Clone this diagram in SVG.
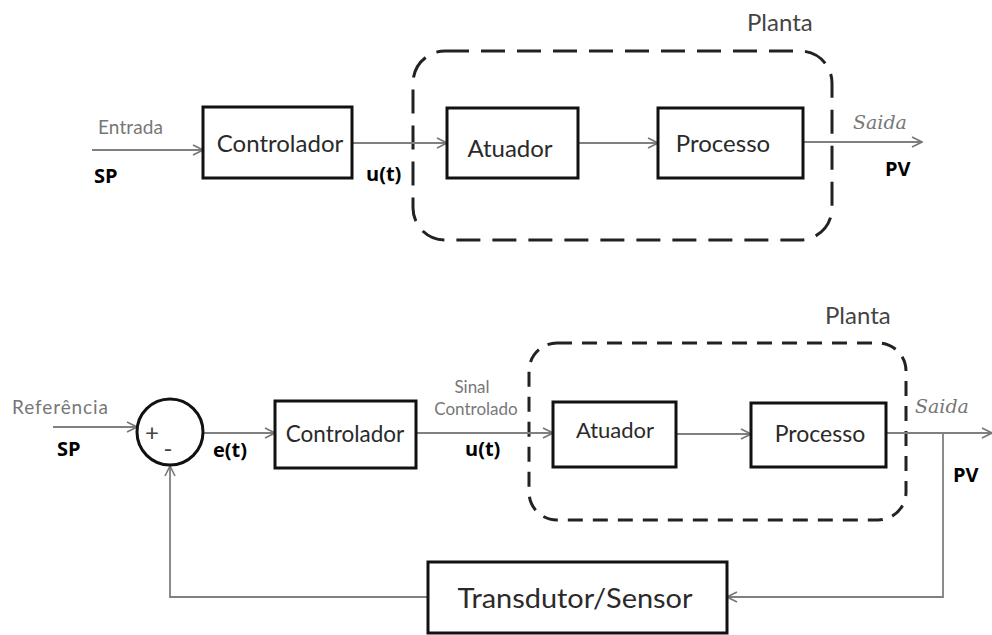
<svg xmlns="http://www.w3.org/2000/svg" width="992" height="635" viewBox="0 0 992 635">
  <defs>
    <marker id="arr" viewBox="0 0 12 12" refX="11" refY="6" markerWidth="12" markerHeight="12" markerUnits="userSpaceOnUse" orient="auto">
      <path d="M1,1 L11,6 L1,11" fill="none" stroke="#777" stroke-width="1.6"/>
    </marker>
  </defs>
  <style>
    .box { fill: #fff; stroke: #111; stroke-width: 3; }
    .plant { fill: none; stroke: #222; stroke-width: 3; }
    .wire { fill: none; stroke: #808080; stroke-width: 1.8; }
    .lbl { font-family: Lato, "Noto Sans", sans-serif; fill: #2a2a2a; text-anchor: middle; }
    .sig { font-family: Lato, "Noto Sans", sans-serif; fill: #777; }
    .bold { font-family: "Open Sans", "Noto Sans", sans-serif; font-weight: bold; fill: #000; }
    .out { font-family: "DejaVu Serif", serif; font-style: italic; fill: #777; }
    .ttl { font-family: Lato, "Noto Sans", sans-serif; fill: #444; }
  </style>
  <rect width="992" height="635" fill="#fff"/>

  <!-- Open loop -->
  <g id="planta-aberta">
    <rect class="plant" x="413" y="51" width="419" height="189" rx="32" stroke-dasharray="24 12"/>
    <text class="ttl" x="747" y="31" font-size="24">Planta</text>
  </g>
  <g id="conexoes-aberta">
    <line class="wire" x1="92" y1="150" x2="203" y2="150" marker-end="url(#arr)"/>
    <line class="wire" x1="352" y1="143" x2="447" y2="143" marker-end="url(#arr)"/>
    <line class="wire" x1="578" y1="143" x2="658" y2="143" marker-end="url(#arr)"/>
    <line class="wire" x1="803" y1="142" x2="922" y2="142" marker-end="url(#arr)"/>
  </g>
  <g id="controlador-aberta">
    <rect class="box" x="203" y="107" width="149" height="71"/>
    <text class="lbl" x="280" y="152" font-size="24">Controlador</text>
  </g>
  <g id="atuador-aberta">
    <rect class="box" x="447" y="108" width="131" height="70"/>
    <text class="lbl" x="510" y="157" font-size="24">Atuador</text>
  </g>
  <g id="processo-aberta">
    <rect class="box" x="658" y="108" width="145" height="70"/>
    <text class="lbl" x="723" y="152" font-size="24">Processo</text>
  </g>
  <g id="rotulos-aberta">
    <text class="sig" x="98" y="134" font-size="19" textLength="65">Entrada</text>
    <text class="bold" x="94" y="183" font-size="20">SP</text>
    <text class="bold" x="366" y="181" font-size="20">u(t)</text>
    <text class="out" x="853" y="129" font-size="19">Saida</text>
    <text class="bold" x="885" y="176" font-size="20">PV</text>
  </g>

  <!-- Closed loop -->
  <g id="planta-fechada">
    <rect class="plant" x="529" y="343" width="377" height="177" rx="28" stroke-dasharray="15 10"/>
    <text class="ttl" x="825" y="324" font-size="24">Planta</text>
  </g>
  <g id="conexoes-fechada">
    <line class="wire" x1="53" y1="427" x2="137" y2="427" marker-end="url(#arr)"/>
    <line class="wire" x1="203" y1="433" x2="275" y2="433" marker-end="url(#arr)"/>
    <line class="wire" x1="416" y1="433" x2="553" y2="433" marker-end="url(#arr)"/>
    <line class="wire" x1="676" y1="434" x2="751" y2="434" marker-end="url(#arr)"/>
    <line class="wire" x1="886" y1="433" x2="992" y2="433" marker-end="url(#arr)"/>
    <polyline class="wire" points="943,433 943,597 727,597" marker-end="url(#arr)"/>
    <polyline class="wire" points="428,597 170,597 170,466" marker-end="url(#arr)"/>
  </g>
  <g id="somador">
    <circle cx="170" cy="432" r="33" fill="#fff" stroke="#111" stroke-width="3"/>
    <text x="152" y="441" font-family="Lato, sans-serif" font-size="24" fill="#444" text-anchor="middle">+</text>
    <text x="168" y="457" font-family="Lato, sans-serif" font-size="24" fill="#444" text-anchor="middle">-</text>
  </g>
  <g id="controlador-fechada">
    <rect class="box" x="275" y="401" width="141" height="67"/>
    <text class="lbl" x="345" y="442" font-size="22.5">Controlador</text>
  </g>
  <g id="atuador-fechada">
    <rect class="box" x="553" y="402" width="123" height="65"/>
    <text class="lbl" x="615" y="438" font-size="22">Atuador</text>
  </g>
  <g id="processo-fechada">
    <rect class="box" x="751" y="403" width="135" height="64"/>
    <text class="lbl" x="820" y="442" font-size="23">Processo</text>
  </g>
  <g id="transdutor">
    <rect class="box" x="428" y="562" width="299" height="71"/>
    <text class="lbl" x="575" y="608" font-size="26" textLength="235" lengthAdjust="spacingAndGlyphs">Transdutor/Sensor</text>
  </g>
  <g id="rotulos-fechada">
    <text class="sig" x="12" y="414" font-size="19" textLength="96">Referência</text>
    <text class="bold" x="57" y="456" font-size="20">SP</text>
    <text class="bold" x="213" y="457" font-size="20">e(t)</text>
    <text class="sig" x="472" y="393" font-size="17" text-anchor="middle">Sinal</text>
    <text class="sig" x="476" y="415" font-size="17" text-anchor="middle">Controlado</text>
    <text class="bold" x="465" y="456" font-size="20">u(t)</text>
    <text class="out" x="915" y="413" font-size="19">Saida</text>
    <text class="bold" x="953" y="482" font-size="20">PV</text>
  </g>
</svg>
